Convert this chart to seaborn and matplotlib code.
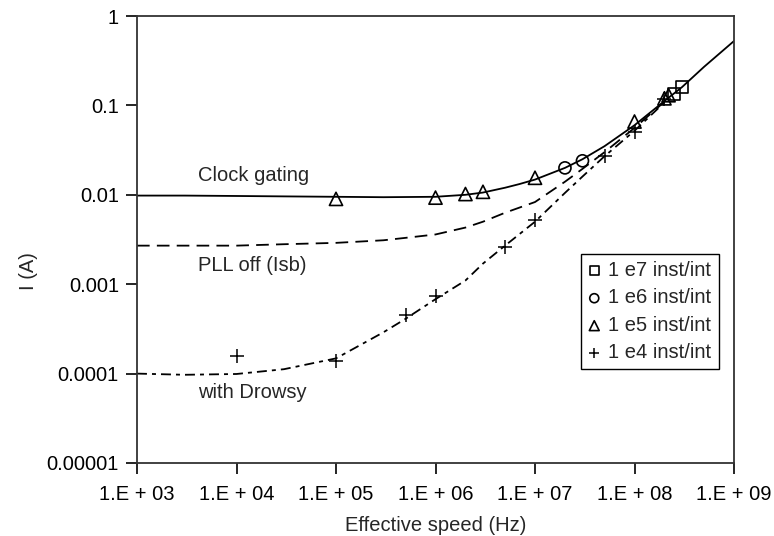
import matplotlib.pyplot as plt
import pandas as pd
import seaborn as sns

# Curves (frequency in Hz, current in A)
clock_f = [1e3, 3e3, 1e4, 3e4, 1e5, 3e5, 1e6, 2e6, 3e6, 5e6, 7e6, 1e7, 2e7, 3e7, 5e7,
           1e8, 2e8, 3e8, 5e8, 1e9]
clock_i = [0.0098, 0.0098, 0.0097, 0.0096, 0.0095, 0.0094, 0.0095, 0.0100, 0.0106, 0.0120,
           0.0132, 0.0148, 0.0200, 0.0250, 0.035, 0.060, 0.112, 0.16, 0.27, 0.525]

pll_f = [1e3, 1e4, 3e4, 1e5, 3e5, 5e5, 1e6, 2e6, 3e6, 5e6, 1e7, 2e7, 3e7, 5e7, 1e8, 2e8]
pll_i = [0.0027, 0.0027, 0.0028, 0.0029, 0.0031, 0.0033, 0.0036, 0.0043, 0.0050, 0.0063,
         0.0083, 0.0140, 0.0195, 0.030, 0.056, 0.11]

drowsy_f = [1e3, 3e3, 1e4, 3e4, 1e5, 3e5, 5e5, 1e6, 2e6, 3e6, 5e6, 1e7, 2e7, 3e7, 5e7,
            1e8, 2e8]
drowsy_i = [0.000100, 0.000097, 0.000099, 0.000112, 0.000148, 0.00029, 0.00041, 0.00068,
            0.0011, 0.0017, 0.0027, 0.0050, 0.0105, 0.0160, 0.027, 0.052, 0.108]

# Measured points
e7_f = [2.5e8, 3e8]
e7_i = [0.135, 0.16]
e6_f = [2e7, 3e7]
e6_i = [0.020, 0.024]
e5_f = [1e5, 1e6, 2e6, 3e6, 1e7, 1e8, 2e8, 2.2e8]
e5_i = [0.0090, 0.0093, 0.0102, 0.0108, 0.0155, 0.066, 0.12, 0.13]
e4_f = [1e4, 1e5, 5e5, 1e6, 5e6, 1e7, 5e7, 1e8, 2e8]
e4_i = [0.000159, 0.000140, 0.00045, 0.00074, 0.0026, 0.0052, 0.027, 0.050, 0.118]

x_ticks = [1e3, 1e4, 1e5, 1e6, 1e7, 1e8, 1e9]
x_labels = ["1.E + 03", "1.E + 04", "1.E + 05", "1.E + 06", "1.E + 07", "1.E + 08", "1.E + 09"]
y_ticks = [1e-5, 1e-4, 1e-3, 1e-2, 1e-1, 1]
y_labels = ["0.00001", "0.0001", "0.001", "0.01", "0.1", "1"]

sns.set_theme(style="ticks")
plt.rcParams["font.family"] = ["Liberation Sans", "DejaVu Sans"]
plt.rcParams["font.size"] = 14.5

fig = plt.figure(figsize=(7.74, 5.36), dpi=100)
ax = fig.add_axes([137 / 774, 73 / 536, 597 / 774, 447 / 536])

lw = 1.3
sns.lineplot(x=clock_f, y=clock_i, ax=ax, color="black", linewidth=lw, sort=False)
sns.lineplot(x=pll_f, y=pll_i, ax=ax, color="black", linewidth=lw, sort=False,
             linestyle=(0, (7, 4)))
sns.lineplot(x=drowsy_f, y=drowsy_i, ax=ax, color="black", linewidth=lw, sort=False,
             linestyle=(0, (5.5, 2.8, 2.2, 2.8)))

sns.scatterplot(x=e7_f, y=e7_i, ax=ax, marker="s", s=70, facecolor="none",
                edgecolor="black", linewidth=1.2, label="1 e7 inst/int", zorder=3)
sns.scatterplot(x=e6_f, y=e6_i, ax=ax, marker="o", s=75, facecolor="none",
                edgecolor="black", linewidth=1.2, label="1 e6 inst/int", zorder=3)
sns.scatterplot(x=e5_f, y=e5_i, ax=ax, marker="^", s=90, facecolor="none",
                edgecolor="black", linewidth=1.2, label="1 e5 inst/int", zorder=3)
sns.scatterplot(x=e4_f, y=e4_i, ax=ax, marker="+", s=90, color="black",
                linewidth=1.1, label="1 e4 inst/int", zorder=3)

ax.set_xscale("log")
ax.set_yscale("log")
ax.set_xlim(1e3, 1e9)
ax.set_ylim(1e-5, 1)
ax.set_xticks(x_ticks)
ax.set_xticklabels(x_labels)
ax.set_yticks(y_ticks)
ax.set_yticklabels(y_labels)
ax.minorticks_off()
ax.tick_params(axis="both", direction="out", length=8, width=1.2, color="black",
               labelsize=14.5, labelcolor="black")
ax.tick_params(axis="x", pad=8)
ax.tick_params(axis="y", pad=5)
for sp in ax.spines.values():
    sp.set_color("#333333")
    sp.set_linewidth(1.3)
    sp.set_visible(True)

ax.set_xlabel("Effective speed (Hz)", fontsize=14.5, va="center")
ax.xaxis.set_label_coords(0.5, -0.139)
ax.set_ylabel("I (A)", fontsize=14.5, va="center")
ax.yaxis.set_label_coords(-0.182, 0.43)

# Curve annotations
ax.text(4.1e3, 0.0166, "Clock gating", fontsize=14.5, va="center", ha="left")
ax.text(4.1e3, 0.00163, "PLL off (Isb)", fontsize=14.5, va="center", ha="left")
ax.text(4.1e3, 6.2e-5, "with Drowsy", fontsize=14.5, va="center", ha="left")

leg = ax.legend(loc="upper left", bbox_to_anchor=(0.744, 0.4676), frameon=True,
                fancybox=False, edgecolor="black", framealpha=1, fontsize=14.5,
                handlelength=0.6, handletextpad=0.4, borderpad=0.35,
                labelspacing=0.42, markerscale=0.75, borderaxespad=0)
leg.get_frame().set_linewidth(1.0)

fig.savefig("out.png", dpi=100)
